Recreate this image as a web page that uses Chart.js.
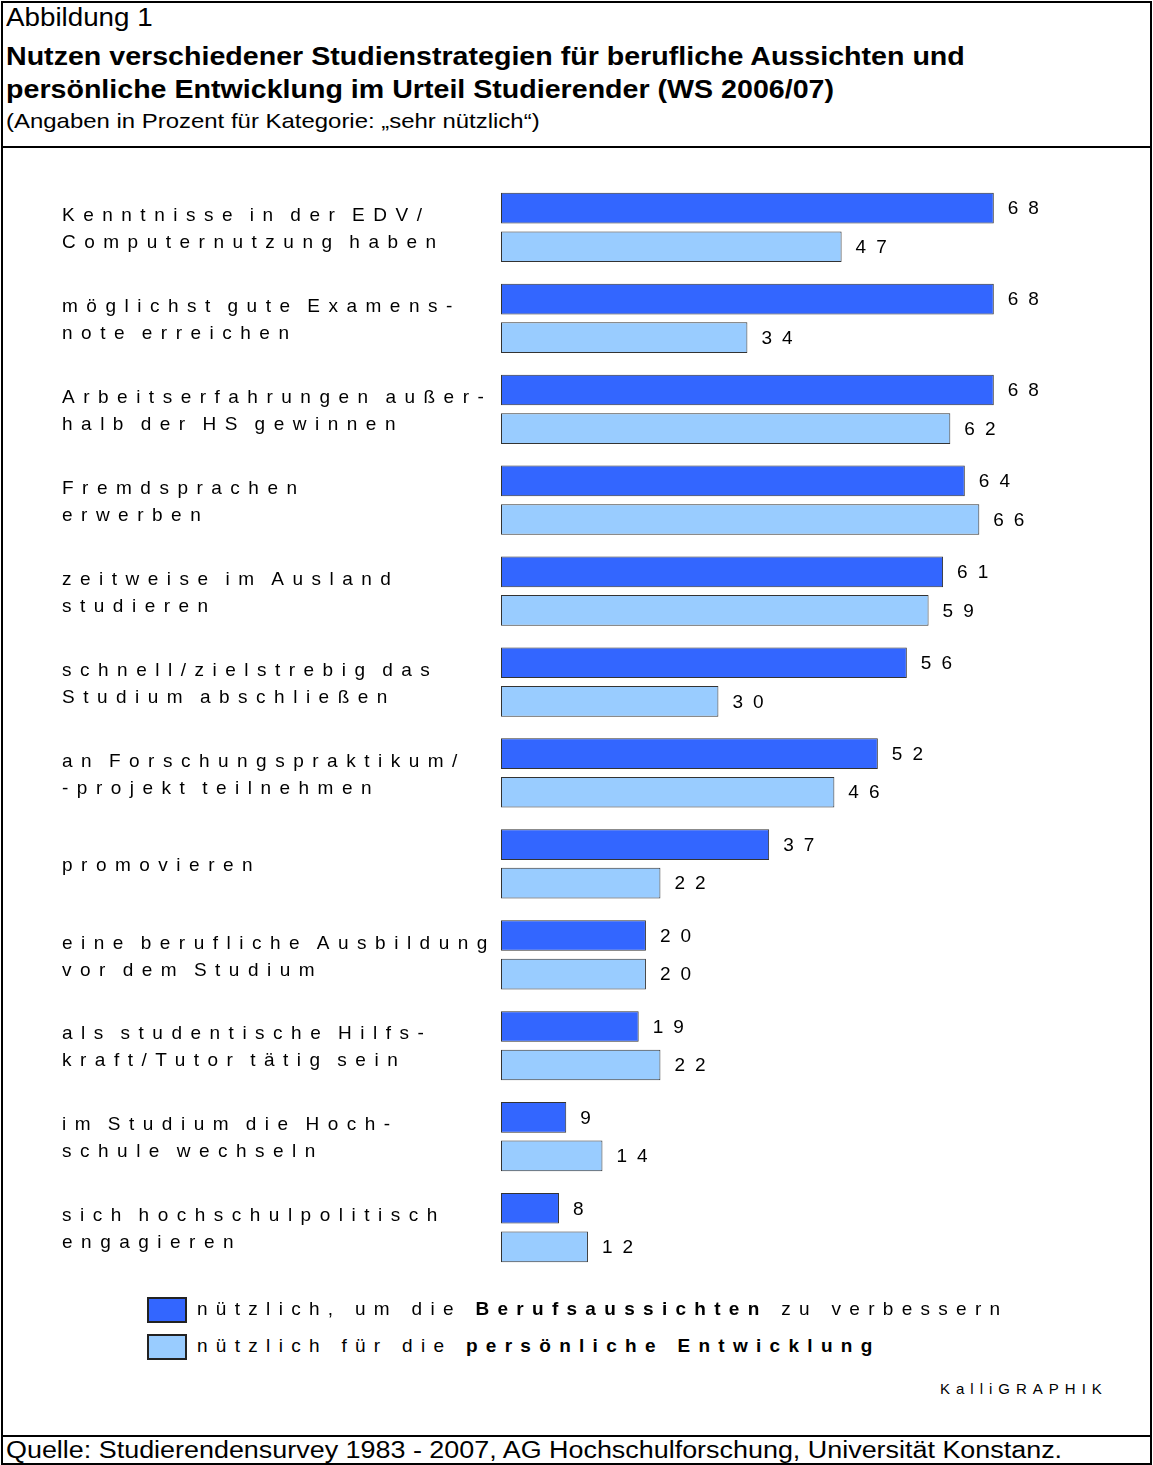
<!DOCTYPE html>
<html>
<head>
<meta charset="utf-8">
<script src="https://cdn.jsdelivr.net/npm/chart.js@4"></script>
<style>
  body { margin: 0; background: #fff; font-family: "Liberation Sans", Arial, sans-serif; color: #000; }
  #frame { position: absolute; left: 1px; top: 1px; width: 1147px; height: 1460px; border: 2px solid #000; }
  .t { position: absolute; white-space: nowrap; transform-origin: 0 50%; }
  #kopf1 { left: 6px; top: 2px; font-size: 25px; line-height: 30px; transform: scaleX(1.11); }
  #kopf2 { left: 6px; top: 40px; font-size: 26px; font-weight: bold; line-height: 33px; transform: scaleX(1.10); }
  #kopf3 { left: 6px; top: 108px; font-size: 21px; line-height: 26px; transform: scaleX(1.14); }
  #linie1 { position: absolute; left: 1px; top: 146px; width: 1151px; height: 2px; background: #000; }
  #linie2 { position: absolute; left: 1px; top: 1435px; width: 1151px; height: 2px; background: #000; }
  #quelle { left: 6px; top: 1437px; font-size: 23px; line-height: 26px; transform: scaleX(1.17); }
  #wrap { position: absolute; left: 0; top: 150px; width: 1153px; height: 1150px; }
  .leg { position: absolute; left: 147px; font-size: 19px; letter-spacing: 8.3px; white-space: nowrap; }
  .leg span.box { display: inline-block; width: 36px; height: 22px; border: 2px solid #222; vertical-align: middle; margin-right: 10px; }
  #kalli { left: 940px; top: 1380px; font-size: 15px; letter-spacing: 6px; }
</style>
</head>
<body>
<div id="frame"></div>
<div class="t" id="kopf1">Abbildung 1</div>
<div class="t" id="kopf2">Nutzen verschiedener Studienstrategien für berufliche Aussichten und<br>persönliche Entwicklung im Urteil Studierender (WS 2006/07)</div>
<div class="t" id="kopf3">(Angaben in Prozent für Kategorie: „sehr nützlich“)</div>
<div id="linie1"></div>
<div id="wrap"><canvas id="grafik"></canvas></div>
<div class="leg" id="leg1" style="top:1297px"><span class="box" style="background:#3366FF"></span>nützlich, um die <b>Berufsaussichten</b> zu verbessern</div>
<div class="leg" id="leg2" style="top:1334px"><span class="box" style="background:#99CCFF"></span>nützlich für die <b>persönliche Entwicklung</b></div>
<div class="t" id="kalli">KalliGRAPHIK</div>
<div id="linie2"></div>
<div class="t" id="quelle">Quelle: Studierendensurvey 1983 - 2007, AG Hochschulforschung, Universität Konstanz.</div>

<script>
// Daten
const strategien = [
  ["Kenntnisse in der EDV/", "Computernutzung haben"],
  ["möglichst gute Examens-", "note erreichen"],
  ["Arbeitserfahrungen außer-", "halb der HS gewinnen"],
  ["Fremdsprachen", "erwerben"],
  ["zeitweise im Ausland", "studieren"],
  ["schnell/zielstrebig das", "Studium abschließen"],
  ["an Forschungspraktikum/", "-projekt teilnehmen"],
  "promovieren",
  ["eine berufliche Ausbildung", "vor dem Studium"],
  ["als studentische Hilfs-", "kraft/Tutor tätig sein"],
  ["im Studium die Hoch-", "schule wechseln"],
  ["sich hochschulpolitisch", "engagieren"]
];
const berufsaussichten = [68, 68, 68, 64, 61, 56, 52, 37, 20, 19, 9, 8];
const entwicklung = [47, 34, 62, 66, 59, 30, 46, 22, 20, 22, 14, 12];

// Sperrschrift für Beschriftungen
const sperrung = {
  id: "sperrung",
  beforeDraw(chart) {
    chart.ctx.letterSpacing = "8.5px";
    chart.ctx.wordSpacing = "-5px";
    chart.ctx.translate(0, 2);
  },
  beforeDatasetsDraw(chart) {
    chart.ctx.translate(0, -2);
  },
  afterDatasetsDraw(chart) {
    const ctx = chart.ctx;
    ctx.save();
    ctx.letterSpacing = "10px";
    ctx.wordSpacing = "0px";
    ctx.font = "19px 'Liberation Sans', Arial, sans-serif";
    ctx.fillStyle = "#000";
    ctx.textBaseline = "middle";
    ctx.textAlign = "left";
    chart.data.datasets.forEach((ds, i) => {
      chart.getDatasetMeta(i).data.forEach((bar, j) => {
        ctx.fillText(String(ds.data[j]), bar.x + 14, bar.y + 1);
      });
    });
    ctx.restore();
  },
  afterDraw(chart) {
    chart.ctx.letterSpacing = "0px";
    chart.ctx.wordSpacing = "0px";
  }
};

const grafik = new Chart(document.getElementById("grafik"), {
  type: "bar",
  data: {
    labels: strategien,
    datasets: [
      {
        label: "nützlich, um die Berufsaussichten zu verbessern",
        data: berufsaussichten,
        backgroundColor: "#3366FF",
        borderColor: "#333333",
        borderWidth: 1,
        borderSkipped: false
      },
      {
        label: "nützlich für die persönliche Entwicklung",
        data: entwicklung,
        backgroundColor: "#99CCFF",
        borderColor: "#333333",
        borderWidth: 1,
        borderSkipped: false
      }
    ]
  },
  options: {
    indexAxis: "y",
    responsive: true,
    maintainAspectRatio: false,
    animation: false,
    categoryPercentage: 0.848,
    barPercentage: 0.795,
    layout: { padding: { left: 62, right: 36, top: 32, bottom: 14 } },
    plugins: {
      legend: { display: false },
      tooltip: { enabled: false }
    },
    scales: {
      x: { display: false, min: 0, max: 85 },
      y: {
        grid: { display: false },
        border: { display: false },
        afterFit(scale) { scale.width = 439; },
        ticks: {
          autoSkip: false,
          crossAlign: "far",
          padding: 0,
          color: "#000",
          font: { family: "'Liberation Sans', Arial, sans-serif", size: 19, lineHeight: 1.42 }
        }
      }
    }
  },
  plugins: [sperrung]
});
</script>
</body>
</html>
